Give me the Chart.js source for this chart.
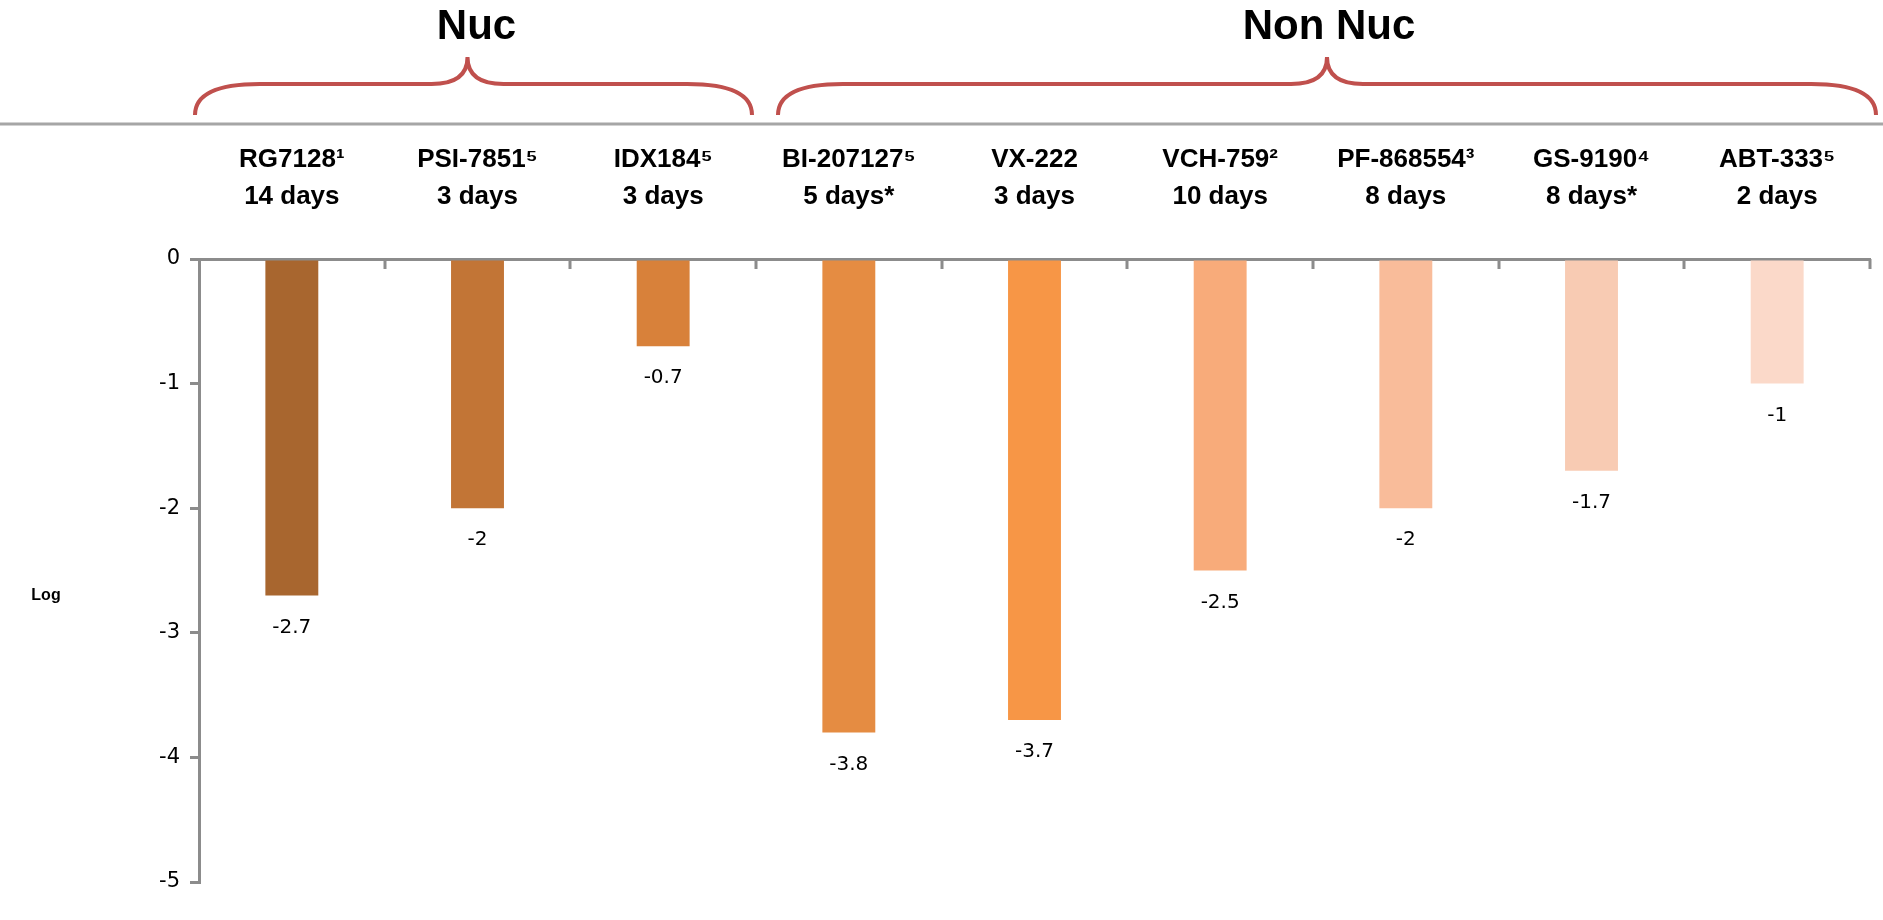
<!DOCTYPE html>
<html lang="en">
<head>
    <meta charset="UTF-8">
    <title>HCV RNA decline</title>
    <script src="https://cdn.jsdelivr.net/npm/chart.js"></script>
    <style>
        html, body { margin: 0; padding: 0; background: #fff; }
        .chart-box { width: 1883px; height: 920px; position: relative; }
    </style>
</head>
<body>
    <div class="chart-box">
        <canvas id="rnaChart"></canvas>
    </div>

    <script>
        // drug names (line 1) and duration (line 2)
        const drugs = ['RG7128¹', 'PSI-7851⁵', 'IDX184⁵', 'BI-207127⁵', 'VX-222', 'VCH-759²', 'PF-868554³', 'GS-9190⁴', 'ABT-333⁵'];
        const durations = ['14 days', '3 days', '3 days', '5 days*', '3 days', '10 days', '8 days', '8 days*', '2 days'];
        const declines = [-2.7, -2, -0.7, -3.8, -3.7, -2.5, -2, -1.7, -1];
        const barColors = ['#a8662f', '#c27536', '#d8813a', '#e58c42', '#f79646', '#f8ab7a', '#f9bc9a', '#f8cbb3', '#fbd9c9'];
        const yTicks = [0, -1, -2, -3, -4, -5];
        // groups: name, first and last category index
        const groups = [
            { name: 'Nuc', from: 0, to: 2 },
            { name: 'Non Nuc', from: 3, to: 8 }
        ];

        const labelFont = '"Liberation Sans", Arial, sans-serif';
        const numFont = '"DejaVu Sans", "Liberation Sans", sans-serif';
        const axisGrey = '#8c8c8c';

        // braces, group titles, top rule, x ticks, value labels
        const decorPlugin = {
            id: 'decor',
            afterDraw(chart) {
                const ctx = chart.ctx;
                const x = chart.scales.x;
                const y = chart.scales.y;
                const half = (x.getPixelForValue(1) - x.getPixelForValue(0)) / 2;
                ctx.save();

                // grey rule under the braces
                ctx.strokeStyle = '#a6a6a6';
                ctx.lineWidth = 3;
                ctx.beginPath();
                ctx.moveTo(0, 124);
                ctx.lineTo(chart.width, 124);
                ctx.stroke();

                // x ticks pointing down between categories
                ctx.strokeStyle = axisGrey;
                ctx.lineWidth = 3;
                ctx.beginPath();
                for (let i = 1; i <= drugs.length; i++) {
                    const px = Math.round(x.getPixelForValue(i - 1) + half);
                    ctx.moveTo(px, y.top);
                    ctx.lineTo(px, y.top + 10);
                }
                ctx.stroke();

                groups.forEach((g, gi) => {
                    const x0 = x.getPixelForValue(g.from) - half + (gi === 0 ? -4 : 22);
                    const x1 = x.getPixelForValue(g.to) + half + (gi === 0 ? -4 : 6);
                    const mid = (x0 + x1) / 2 + (gi === 0 ? -6 : 0);
                    const yEnd = 115, yMid = 84, yTip = 57, r = 36;

                    ctx.strokeStyle = '#c0504d';
                    ctx.lineWidth = 4;
                    ctx.beginPath();
                    ctx.moveTo(x0, yEnd);
                    ctx.quadraticCurveTo(x0, yMid, x0 + r * 1.8, yMid);
                    ctx.lineTo(mid - r, yMid);
                    ctx.quadraticCurveTo(mid, yMid, mid, yTip);
                    ctx.quadraticCurveTo(mid, yMid, mid + r, yMid);
                    ctx.lineTo(x1 - r * 1.8, yMid);
                    ctx.quadraticCurveTo(x1, yMid, x1, yEnd);
                    ctx.stroke();

                    ctx.fillStyle = '#000';
                    ctx.font = 'bold 42px ' + labelFont;
                    ctx.textAlign = 'center';
                    ctx.textBaseline = 'middle';
                    ctx.fillText(g.name, mid + (gi === 0 ? 9 : 2), 27);
                });

                // value labels under each bar
                ctx.font = '20px ' + numFont;
                ctx.fillStyle = '#000';
                ctx.textAlign = 'center';
                ctx.textBaseline = 'middle';
                const meta = chart.getDatasetMeta(0);
                meta.data.forEach((bar, i) => {
                    ctx.fillText(String(declines[i]), bar.x, bar.y + 32);
                });

                // y axis title (squashed in the original)
                ctx.font = 'bold 16px ' + labelFont;
                ctx.textAlign = 'center';
                ctx.fillText('Log', 46, y.top + (y.bottom - y.top) * 0.54);
                ctx.restore();
            }
        };

        new Chart(document.getElementById('rnaChart'), {
            type: 'bar',
            data: {
                labels: drugs.map((d, i) => [d, durations[i]]),
                datasets: [{
                    data: declines,
                    backgroundColor: barColors,
                    borderWidth: 0,
                    categoryPercentage: 1,
                    barPercentage: 0.285
                }]
            },
            options: {
                responsive: true,
                maintainAspectRatio: false,
                animation: false,
                layout: { padding: { top: 0, right: 13, bottom: 38, left: 0 } },
                plugins: {
                    legend: { display: false },
                    tooltip: { enabled: false }
                },
                scales: {
                    x: {
                        position: 'top',
                        offset: true,
                        grid: { display: false },
                        border: { display: true, color: axisGrey, width: 3 },
                        ticks: {
                            color: '#000',
                            font: { family: labelFont, size: 26, weight: 'bold', lineHeight: 1.45 },
                            padding: 35,
                            maxRotation: 0,
                            autoSkip: false
                        },
                        afterFit(scale) { scale.height = 259; }
                    },
                    y: {
                        min: -5,
                        max: 0,
                        afterBuildTicks(scale) { scale.ticks = yTicks.map(v => ({ value: v })); },
                        grid: {
                            display: true,
                            drawOnChartArea: false,
                            color: axisGrey,
                            lineWidth: 3,
                            tickLength: 9
                        },
                        border: { display: true, color: axisGrey, width: 3 },
                        ticks: {
                            color: '#000',
                            font: { family: numFont, size: 21 },
                            padding: 10
                        },
                        afterFit(scale) { scale.width = 199; }
                    }
                }
            },
            plugins: [decorPlugin]
        });
    </script>
</body>
</html>
